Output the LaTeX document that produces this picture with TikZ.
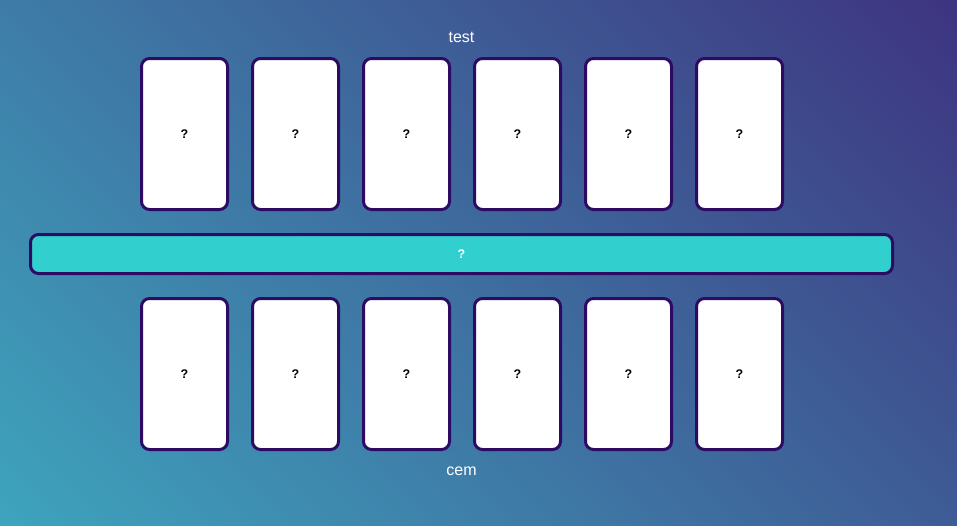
\documentclass[tikz,border=0pt]{standalone}
\usepackage{fontspec}
\setmainfont{Liberation Sans}
\usetikzlibrary{shapes}
\definecolor{cardline}{HTML}{2E0B62}
\definecolor{bgtop}{HTML}{3E3480}
\definecolor{bgbottom}{HTML}{3EA4BD}
\definecolor{barfill}{HTML}{32CFCF}
\pgfdeclareverticalshading{bgshade}{100bp}{color(0bp)=(bgbottom); color(14.6bp)=(bgbottom); color(85.4bp)=(bgtop); color(100bp)=(bgtop)}
\tikzstyle{card}=[rectangle,draw=cardline,fill=white,line width=3pt,rounded corners=8pt,minimum width=86pt,minimum height=151pt,inner sep=0pt,font=\fontsize{12.5}{14}\selectfont\bfseries]
\tikzstyle{bar}=[rectangle,draw=cardline,fill=barfill,line width=3pt,rounded corners=8pt,minimum width=862pt,minimum height=39pt,inner sep=0pt,text=white,font=\fontsize{12.5}{14}\selectfont\bfseries]
\tikzstyle{caption}=[text=white,font=\fontsize{16}{18}\selectfont]

\begin{document}
\begin{tikzpicture}[x=1pt,y=-1pt]
    % Background
    \useasboundingbox (0,0) rectangle (957,525);
    \shade[shading=bgshade,shading angle=-45] (0,0) rectangle (957,525);
    % Top and bottom rows of cards
    \foreach \pos/\name in {{(184.5,134)/a}, {(295.5,134)/b}, {(406.5,134)/c},
                            {(517.5,134)/d}, {(628.5,134)/e}, {(739.5,134)/f}}
        \node[card] (top\name) at \pos {?};
    \foreach \pos/\name in {{(184.5,374)/a}, {(295.5,374)/b}, {(406.5,374)/c},
                            {(517.5,374)/d}, {(628.5,374)/e}, {(739.5,374)/f}}
        \node[card] (bot\name) at \pos {?};
    % Middle bar
    \node[bar] (middle) at (461.5,254) {?};

    \node[caption] (test) at (461.5,37) {test};
    \node[caption] (cem) at (461.5,471) {cem};
\end{tikzpicture}
\end{document}
